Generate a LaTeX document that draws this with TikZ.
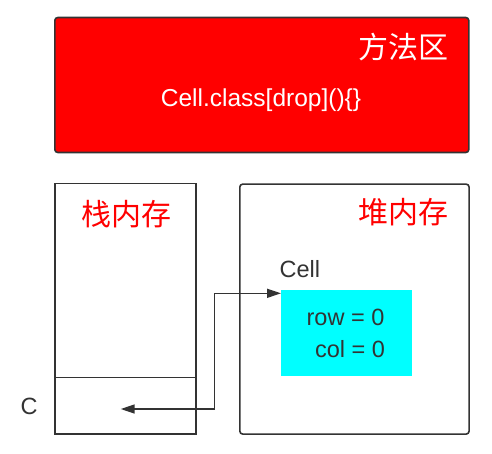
\documentclass[tikz,border=0pt]{standalone}
\usepackage{fontspec}
\setmainfont{Liberation Sans}
\newfontfamily\cjk{Noto Sans CJK SC}
\usetikzlibrary{arrows.meta}
\definecolor{ink}{HTML}{333333}
\definecolor{cyanfill}{HTML}{00FFFF}
\tikzset{
  box/.style={draw=ink, line width=1.6pt, inner sep=0pt, anchor=north west},
  title/.style={font=\cjk\fontsize{30}{30}\selectfont, inner sep=0pt},
  txt/.style={font=\fontsize{23.5}{23.5}\selectfont, text=ink, inner sep=0pt},
  conn/.style={draw=ink, line width=1.6pt, {Triangle[length=14pt,width=9pt]}-{Triangle[length=14pt,width=9pt]}}
}
\begin{document}
\begin{tikzpicture}[x=1pt,y=-1pt]
\useasboundingbox (0,0) rectangle (492,453);
% method area
\node[box, fill=red, rounded corners=3pt, minimum width=414pt, minimum height=135pt] (method) at (54,16.7) {};
\node[title, text=white] (methodtitle) at (403,47.5) {方法区};
\node[txt, text=white, font=\fontsize{24.5}{24.5}\selectfont] (methodcode) at (261,100) {Cell.class[drop]()\{\}};
% stack
\node[box, minimum width=141pt, minimum height=250.3pt] (stack) at (54,182.7) {};
\node[title, text=red] (stacktitle) at (126,214) {栈内存};
\node[box, minimum width=141pt, minimum height=56.3pt] (slot) at (54,376.7) {};
\node[txt, anchor=center] (clabel) at (29,406) {C};
% heap
\node[box, rounded corners=3pt, minimum width=229.3pt, minimum height=250pt] (heap) at (239,183.3) {};
\node[title, text=red] (heaptitle) at (403,212.5) {堆内存};
\node[txt, anchor=base west] (celllabel) at (279.5,277) {Cell};
\node[fill=cyanfill, inner sep=0pt, anchor=north west, minimum width=130.7pt, minimum height=85.7pt] (obj) at (281,290) {};
\node[txt, anchor=base] (row) at (345.5,325) {row = 0};
\node[txt, anchor=base] (col) at (350,357) {col = 0};
% reference arrow
\coordinate (cref) at (120.7,409);
\draw[conn] (cref) -- (214.5,409) |- ([yshift=-3.3pt]obj.north west);
\end{tikzpicture}
\end{document}
